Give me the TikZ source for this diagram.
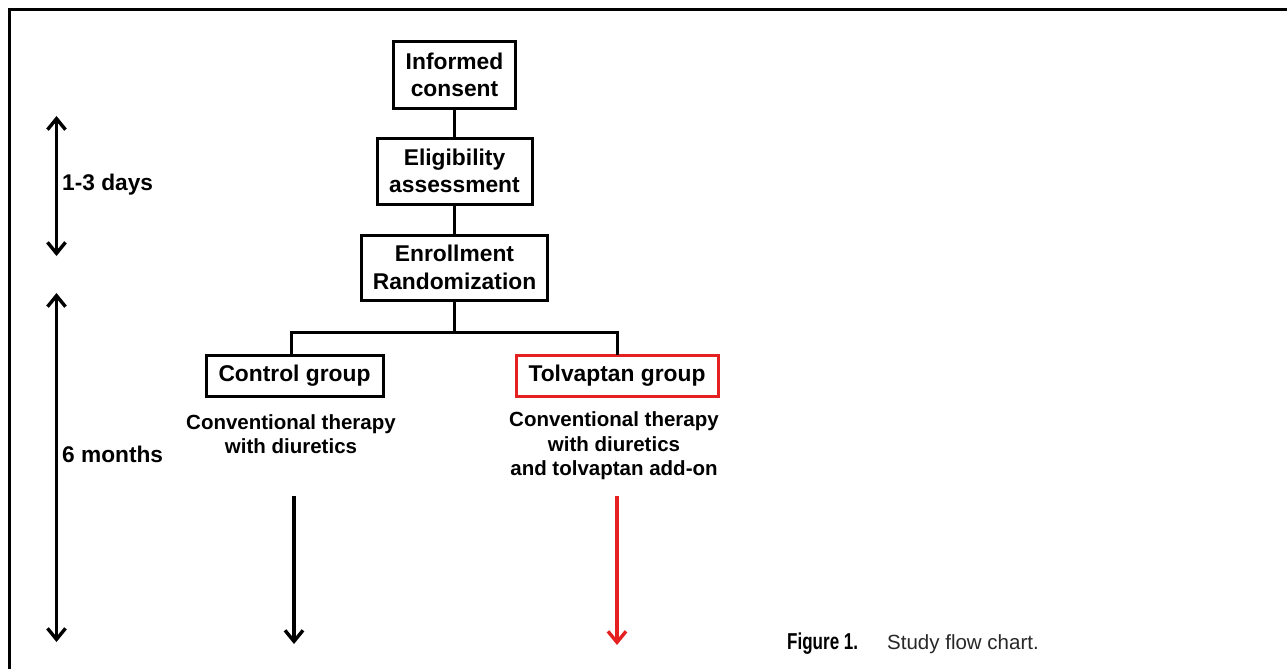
\documentclass[tikz,border=0pt]{standalone}
\usepackage{fontspec}
\setmainfont{Liberation Sans}
\newfontfamily\capbold[FakeStretch=0.74]{Liberation Sans Bold}
\usetikzlibrary{arrows.meta}
\definecolor{tred}{RGB}{228,32,32}
\definecolor{capgray}{RGB}{40,40,40}
\begin{document}
\begin{tikzpicture}[x=1pt,y=-1pt,
  box/.style={draw, line width=3pt, inner sep=0pt, align=center,
    font=\fontsize{22.8}{27.5}\selectfont\bfseries},
  txt/.style={inner sep=0pt, align=center, font=\fontsize{20.5}{24.5}\selectfont\bfseries},
  lbl/.style={inner sep=0pt, anchor=west, font=\fontsize{22.7}{27}\selectfont\bfseries},
  conn/.style={line width=3pt},
  tip/.tip={Straight Barb[length=11pt,width=18pt,line width=3.4pt]},
  arr/.style={line width=3.4pt, -tip},
  darr/.style={line width=3.4pt, tip-tip}]
\useasboundingbox (0,0) rectangle (1287,669);
\fill[white] (0,0) rectangle (1287,669);
% frame
\draw[line width=2.8pt] (9.5,669) -- (9.5,9.5) -- (1287,9.5);
% boxes
\node[box, minimum width=122pt, minimum height=66pt] (inf) at (454.5,75) {Informed\\consent};
\node[box, minimum width=155pt, minimum height=66pt] (eli) at (454.5,171) {Eligibility\\assessment};
\node[box, minimum width=186pt, minimum height=65pt] (enr) at (454.5,267.5) {Enrollment\\Randomization};
\node[box, minimum width=177pt, minimum height=41pt] (ctl) at (294.5,375.5) {Control group};
\node[box, draw=tred, minimum width=202pt, minimum height=41pt] (tol) at (617,375.5) {Tolvaptan group};
% connectors
\draw[conn] (inf) -- (eli);
\draw[conn] (eli) -- (enr);
\coordinate (j) at (454.5,332.5);
\coordinate (cl) at (291,355);
\coordinate (tl) at (617,355);
\draw[conn] (enr.south) -- (j);
\draw[conn] (cl) |- (j) -| (tl);
% therapy texts
\node[txt] (ctxt) at (291,434) {Conventional therapy\\with diuretics};
\node[txt] (ttxt) at (614,446) {Conventional therapy\\with diuretics\\and tolvaptan add-on};
% arrows
\coordinate (ca1) at (294,496);
\coordinate (ca2) at (294,644);
\coordinate (ta1) at (617,496);
\coordinate (ta2) at (617,645);
\draw[arr] (ca1) -- (ca2);
\draw[arr, draw=tred] (ta1) -- (ta2);
% time arrows
\coordinate (d1) at (56.5,116);
\coordinate (d2) at (56.5,256);
\coordinate (m1) at (56.5,293);
\coordinate (m2) at (56.5,642);
\draw[darr] (d1) -- (d2);
\draw[darr] (m1) -- (m2);
\node[lbl] (days) at (62,185) {1-3 days};
\node[lbl] (months) at (62,454) {6 months};
% caption
\node[inner sep=0pt, anchor=base west, font=\fontsize{23}{26}\capbold] (fig) at (787,649) {Figure 1.};
\node[inner sep=0pt, anchor=base west, text=capgray, font=\fontsize{20.5}{24}\selectfont] (cap) at (887,649) {Study flow chart.};
\end{tikzpicture}
\end{document}
